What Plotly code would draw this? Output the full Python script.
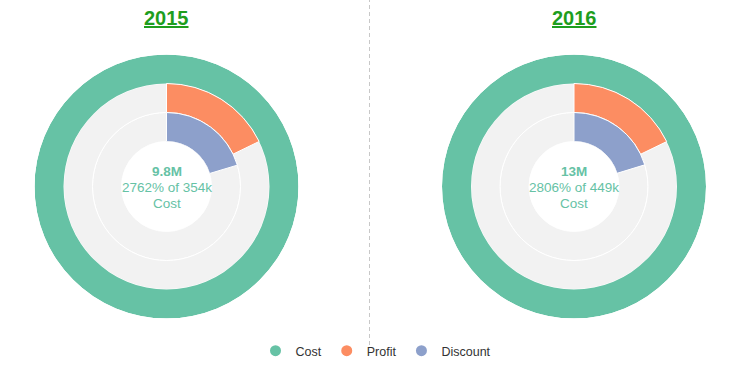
import plotly.graph_objects as go

years = ["2015", "2016"]
cost = [9777000, 12600000]
profit = [63000, 80000]
discount = [72000, 91000]
target = [354000, 449000]

series_names = ["Cost", "Profit", "Discount"]
colors = ["#66c2a5", "#fc8d62", "#8da0cb"]
bg_grey = "#f2f2f2"

W, H = 752, 372
centers_px = [166.5, 574]
cy_px = 186.5
R = 132
FONT = "Liberation Sans, Arial"


def fmt_short(v):
    if v >= 1e6:
        return f"{v/1e6:.2g}M"
    if v >= 1e3:
        return f"{v/1e3:.3g}k"
    return str(v)


fig = go.Figure()
layout_polars = {}
annotations = []

for i, yr in enumerate(years):
    pid = "polar" if i == 0 else f"polar{i+1}"
    cx = centers_px[i]
    xd = [(cx - R) / W, (cx + R) / W]
    cyb = H - cy_px
    yd = [(cyb - R) / H, (cyb + R) / H]
    layout_polars[pid] = dict(
        domain=dict(x=xd, y=yd),
        hole=45 / R,
        bgcolor="rgba(0,0,0,0)",
        radialaxis=dict(range=[0, 3], visible=False, showgrid=False),
        angularaxis=dict(rotation=90, direction="clockwise", visible=False,
                         showgrid=False),
    )
    # grey background rings for Profit and Discount
    fig.add_trace(go.Barpolar(
        r=[1, 1], base=[0, 1], theta=[180, 180], width=[360, 360],
        marker=dict(color=bg_grey, line=dict(color="white", width=1)),
        subplot=pid, showlegend=False, hoverinfo="skip"))
    vals = [cost[i], profit[i], discount[i]]
    bases = [2, 1, 0]
    for j, v in enumerate(vals):
        frac = min(v / target[i], 1.0)
        ang = frac * 360
        fig.add_trace(go.Barpolar(
            r=[1], base=[bases[j]], theta=[ang / 2], width=[ang],
            marker=dict(color=colors[j], line=dict(color="white", width=1 if frac < 1 else 0)),
            name=series_names[j], subplot=pid, showlegend=False))
    pct = round(cost[i] / target[i] * 100)
    lines = [f"<b>{fmt_short(cost[i])}</b>", f"{pct}% of {fmt_short(target[i])}", "Cost"]
    for k, t in enumerate(lines):
        annotations.append(dict(
            x=cx / W, y=cyb / H, xref="paper", yref="paper",
            xanchor="center", yanchor="middle", yshift=15.5 - 16 * k,
            text=t, showarrow=False,
            font=dict(family=FONT, size=13.5, color="#66c2a5")))
    annotations.append(dict(
        x=cx / W, y=(H - 18) / H, xref="paper", yref="paper",
        xanchor="center", yanchor="middle",
        text=f"<b><u>{yr}</u></b>", showarrow=False,
        font=dict(family=FONT, size=20, color="#1e9e1e")))

# legend entries with circle markers
for j, nm in enumerate(series_names):
    fig.add_trace(go.Scatter(x=[None], y=[None], mode="markers", name=nm,
                             marker=dict(color=colors[j], size=11, symbol="circle")))

fig.update_layout(
    width=W, height=H,
    margin=dict(l=0, r=0, t=0, b=0),
    paper_bgcolor="white", plot_bgcolor="white",
    xaxis=dict(visible=False), yaxis=dict(visible=False),
    annotations=annotations,
    showlegend=True,
    legend=dict(orientation="h", x=0.5, xanchor="center", y=(H - 351) / H, yanchor="middle",
                font=dict(family=FONT, size=12.5, color="#333333"),
                itemwidth=30, bgcolor="rgba(0,0,0,0)"),
    shapes=[dict(type="line", xref="paper", yref="paper",
                 x0=369.5 / W, x1=369.5 / W, y0=(H - 345) / H, y1=1,
                 line=dict(color="#c8c8c8", width=1, dash="4px,3px"))],
    **layout_polars,
)

fig.write_html("out.html", post_script="document.body.style.margin='0';",
               config={"displayModeBar": False})
